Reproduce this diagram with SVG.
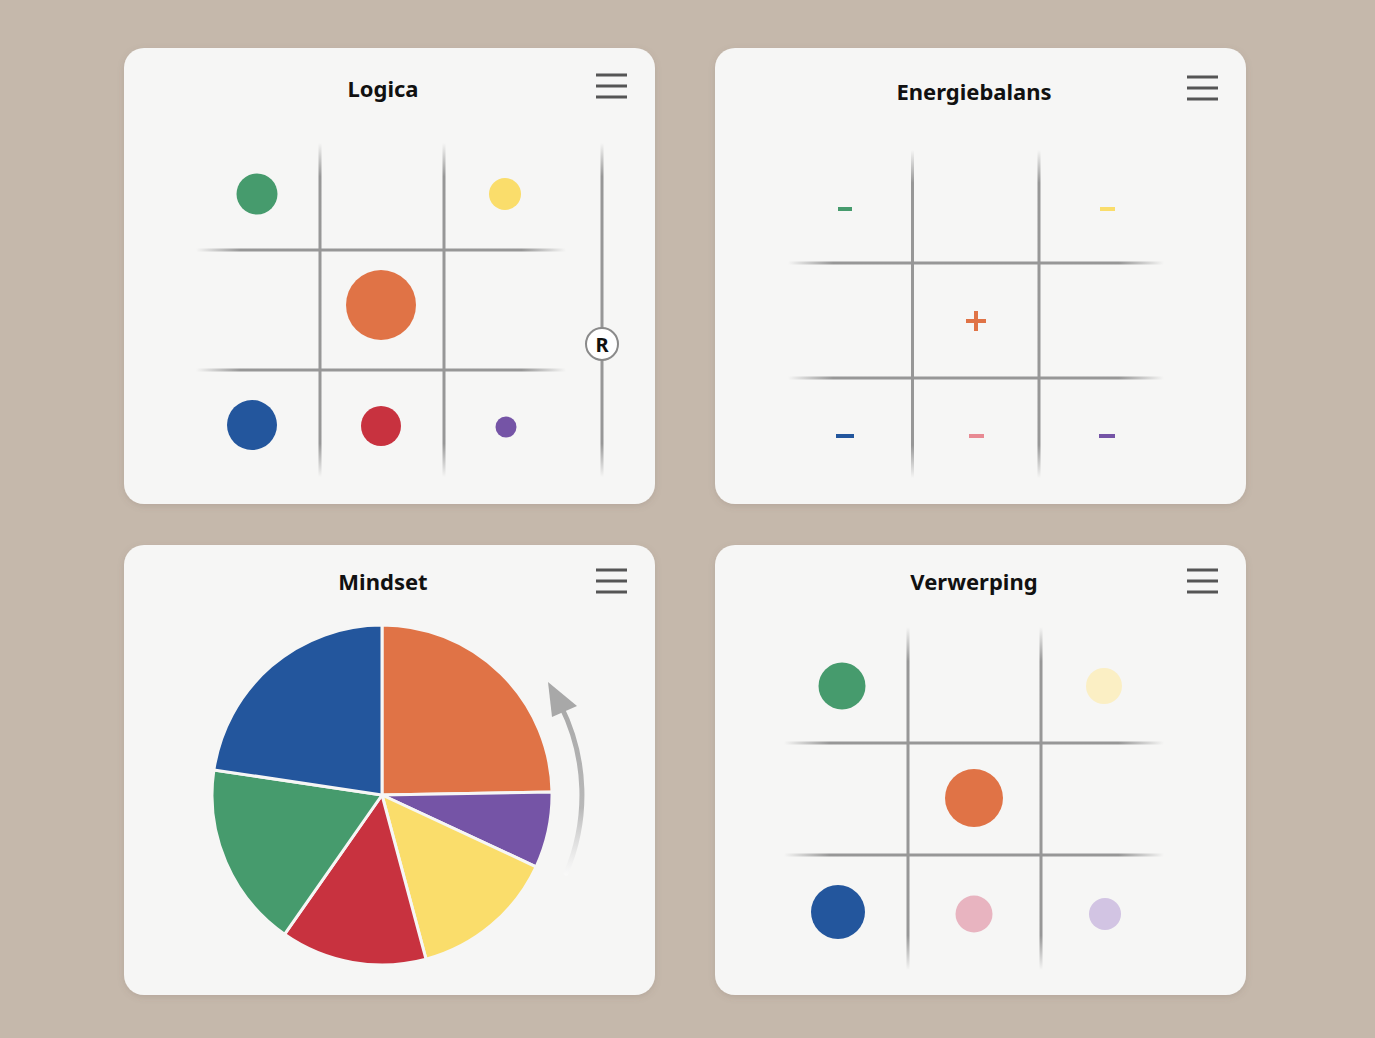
<svg xmlns="http://www.w3.org/2000/svg" width="1375" height="1038" viewBox="0 0 1375 1038">
<defs>
<style>
.card{fill:#f6f6f5;}
.title{font-family:"Noto Sans","Open Sans","Liberation Sans",sans-serif;font-weight:bold;font-size:22px;fill:#111;text-anchor:middle;}
.menu{stroke:#555;stroke-width:3;fill:none;}
.h{fill:url(#hfade);}
.v{fill:url(#vfade);}
.slice{stroke:#f6f6f5;stroke-width:3;stroke-linejoin:round;}
</style>
<linearGradient id="hfade" x1="0" y1="0" x2="1" y2="0">
<stop offset="0" stop-color="#979797" stop-opacity="0"/>
<stop offset="0.12" stop-color="#979797"/>
<stop offset="0.88" stop-color="#979797"/>
<stop offset="1" stop-color="#979797" stop-opacity="0"/>
</linearGradient>
<linearGradient id="vfade" x1="0" y1="0" x2="0" y2="1">
<stop offset="0" stop-color="#979797" stop-opacity="0"/>
<stop offset="0.1" stop-color="#979797"/>
<stop offset="0.9" stop-color="#979797"/>
<stop offset="1" stop-color="#979797" stop-opacity="0"/>
</linearGradient>
<linearGradient id="arrowfade" gradientUnits="userSpaceOnUse" x1="0" y1="700" x2="0" y2="880">
<stop offset="0" stop-color="#a8a8a8"/>
<stop offset="0.6" stop-color="#b8b8b8"/>
<stop offset="1" stop-color="#ffffff" stop-opacity="0.6"/>
</linearGradient>
<filter id="sh" x="-5%" y="-5%" width="110%" height="110%">
<feDropShadow dx="0" dy="2" stdDeviation="3" flood-color="#6e5f50" flood-opacity="0.18"/>
</filter>
</defs>
<rect x="0" y="0" width="1375" height="1038" fill="#c5b8ab"/>

<g id="logica">
<rect class="card" x="124" y="48" width="531" height="456" rx="20" filter="url(#sh)"/>
<text class="title" x="383" y="97">Logica</text>
<g class="menu"><line x1="596" y1="75" x2="627" y2="75"/><line x1="596" y1="86" x2="627" y2="86"/><line x1="596" y1="97" x2="627" y2="97"/></g>
<rect class="v" x="318.5" y="143" width="3" height="334"/>
<rect class="v" x="442.5" y="143" width="3" height="334"/>
<rect class="h" x="196" y="248.5" width="370" height="3"/>
<rect class="h" x="196" y="368.5" width="370" height="3"/>
<rect class="v" x="600.5" y="143" width="3" height="334"/>
<circle cx="602" cy="344" r="16" fill="#ffffff" stroke="#8a8a8a" stroke-width="2"/>
<text x="602" y="351.5" font-family="'Noto Sans','Liberation Sans',sans-serif" font-weight="bold" font-size="20" fill="#111" text-anchor="middle">R</text>
<circle cx="257" cy="194" r="20.5" fill="#469b6d"/>
<circle cx="505" cy="194" r="16" fill="#fadd6b"/>
<circle cx="381" cy="305" r="35" fill="#e07346"/>
<circle cx="252" cy="425" r="25" fill="#23569d"/>
<circle cx="381" cy="426" r="20" fill="#c8323f"/>
<circle cx="506" cy="427" r="10.5" fill="#7554a6"/>
</g>

<g id="energiebalans">
<rect class="card" x="715" y="48" width="531" height="456" rx="20" filter="url(#sh)"/>
<text class="title" x="974" y="100">Energiebalans</text>
<g class="menu"><line x1="1187" y1="77" x2="1218" y2="77"/><line x1="1187" y1="88" x2="1218" y2="88"/><line x1="1187" y1="99" x2="1218" y2="99"/></g>
<rect class="v" x="911" y="150" width="3" height="328"/>
<rect class="v" x="1037.5" y="150" width="3" height="328"/>
<rect class="h" x="788" y="261.5" width="376" height="3"/>
<rect class="h" x="788" y="376.5" width="376" height="3"/>
<rect x="838" y="207" width="14" height="4" fill="#469b6d"/>
<rect x="1100" y="207" width="15" height="4" fill="#fadd6b"/>
<path d="M966 321 H986 M976 311 V331" stroke="#e07346" stroke-width="4"/>
<rect x="836" y="434" width="18" height="4" fill="#23569d"/>
<rect x="969" y="434" width="15" height="4" fill="#e88a93"/>
<rect x="1099" y="434" width="16" height="4" fill="#7554a6"/>
</g>

<g id="mindset">
<rect class="card" x="124" y="545" width="531" height="450" rx="20" filter="url(#sh)"/>
<text class="title" x="383" y="590">Mindset</text>
<g class="menu"><line x1="596" y1="570" x2="627" y2="570"/><line x1="596" y1="581" x2="627" y2="581"/><line x1="596" y1="592" x2="627" y2="592"/></g>
<path class="slice" d="M382 795 L382 625 A170 170 0 0 1 552 792 Z" fill="#e07346"/>
<path class="slice" d="M382 795 L552 792 A170 170 0 0 1 536.1 866.8 Z" fill="#7554a6"/>
<path class="slice" d="M382 795 L536.1 866.8 A170 170 0 0 1 426 959.2 Z" fill="#fadd6b"/>
<path class="slice" d="M382 795 L426 959.2 A170 170 0 0 1 284.5 934.3 Z" fill="#c8323f"/>
<path class="slice" d="M382 795 L284.5 934.3 A170 170 0 0 1 213.9 769.9 Z" fill="#469b6d"/>
<path class="slice" d="M382 795 L213.9 769.9 A170 170 0 0 1 382 625 Z" fill="#23569d"/>
<path d="M566.1 873.1 A200 200 0 0 0 561 706" fill="none" stroke="url(#arrowfade)" stroke-width="5" stroke-linecap="round"/>
<path d="M548 682 L577 706 L552 717 Z" fill="#a8a8a8"/>
</g>

<g id="verwerping">
<rect class="card" x="715" y="545" width="531" height="450" rx="20" filter="url(#sh)"/>
<text class="title" x="974" y="590">Verwerping</text>
<g class="menu"><line x1="1187" y1="570" x2="1218" y2="570"/><line x1="1187" y1="581" x2="1218" y2="581"/><line x1="1187" y1="592" x2="1218" y2="592"/></g>
<rect class="v" x="906.5" y="627" width="3" height="343"/>
<rect class="v" x="1039.5" y="627" width="3" height="343"/>
<rect class="h" x="784" y="741.5" width="380" height="3"/>
<rect class="h" x="784" y="853.5" width="380" height="3"/>
<circle cx="842" cy="686" r="23.5" fill="#469b6d"/>
<circle cx="1104" cy="686" r="18" fill="#fbefc4"/>
<circle cx="974" cy="798" r="29" fill="#e07346"/>
<circle cx="838" cy="912" r="27" fill="#23569d"/>
<circle cx="974" cy="914" r="18.5" fill="#e8b4c0"/>
<circle cx="1105" cy="914" r="16" fill="#d2c4e3"/>
</g>

<g id="connectors"></g>
</svg>
